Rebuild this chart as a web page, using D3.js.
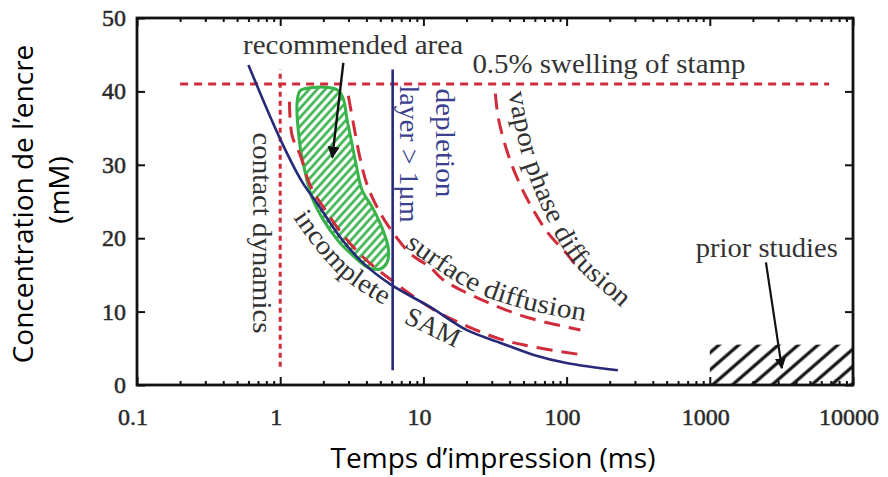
<!DOCTYPE html>
<html><head><meta charset="utf-8">
<script src="https://cdn.jsdelivr.net/npm/d3@7"></script>
<style>body{margin:0;background:#fff;} svg{display:block;}</style>
</head><body>
<svg id="chart" width="888" height="477"></svg>
<script>
// ---- data ----
const xTicks = [0.1, 1, 10, 100, 1000, 10000];
const xTickLabels = ["0.1", "1", "10", "100", "1000", "10000"];
const yTicks = [0, 10, 20, 30, 40, 50];
const yTickLabels = ["0", "10", "20", "30", "40", "50"];

// blue curve: incomplete SAM limit
const samT = [0.6, 1.0, 1.43, 1.82, 2.63, 3.8, 5.9, 11.2, 20, 35, 59, 100, 228];
const samC = [43.6, 33.5, 27.6, 24.7, 20.1, 16.6, 13.7, 10.6, 7.5, 5.7, 4.1, 3.0, 2.0];
// red dashed curve just above it
const bndT = [1.16, 1.21, 1.38, 1.62, 2.07, 2.76, 3.8, 5.87, 11.7, 20.3, 34.5, 58.7, 129];
const bndC = [38.6, 34.0, 31.3, 27.2, 23.8, 20.4, 17.4, 14.4, 10.3, 8.0, 6.25, 5.2, 4.1];
// surface diffusion
const surfT = [2.99, 3.24, 3.62, 4.06, 5.0, 6.17, 8.1, 11.2, 13.8, 26.3, 53.4, 125];
const surfC = [39.4, 35.7, 30.8, 27.2, 23.4, 20.7, 17.9, 16.0, 14.3, 11.5, 9.2, 7.5];
// vapor phase diffusion
const vapT = [31.8, 33.4, 38.6, 45.4, 56, 73.6, 102, 119];
const vapC = [39.7, 36.3, 31.7, 28.1, 24.5, 20.8, 17.7, 16.0];
// recommended area outline
const recT = [1.315, 1.38, 1.62, 2.24, 2.55, 2.76, 2.94, 3.14, 3.40, 3.74, 4.40, 5.17, 5.69, 5.58, 5.0, 4.12, 3.19, 2.55, 1.97, 1.67, 1.47, 1.36, 1.315];
const recC = [38.7, 40.1, 40.5, 40.5, 40.1, 39.0, 36.0, 33.3, 29.9, 26.5, 24.2, 21.3, 18.6, 16.7, 15.8, 16.0, 17.7, 19.6, 22.7, 25.5, 29.6, 33.3, 36.7];
// straight limits
const swellT = [0.2, 6800], swellC = 41;
const contactT = 1, contactC = [2.5, 43];
const deplT = 6.1, deplC = [2, 43];
// prior studies
const priorT = [1000, 10000], priorC = [0, 5.5];
// arrows [tail, tip]
const recArrowT = [2.76, 2.31], recArrowC = [43.9, 31.0];
const priorArrowT = [2466, 3186], priorArrowC = [16.7, 2.3];
// label baselines
const vapLabT = [39.3, 47.6, 65.8, 107, 210, 329], vapLabC = [39.8, 32.0, 24.5, 17.0, 11.6, 8.2];
const surfLabT = [7.36, 13.2, 23.1, 47.6, 125, 173], surfLabC = [18.9, 15.4, 12.6, 10.5, 8.8, 8.4];
const incLabT = [1.23, 1.78, 2.88, 6.07, 8.1], incLabC = [22.8, 18.5, 14.2, 10.3, 9.3];
const samLabT = [7.2, 21.3], samLabC = [8.5, 4.1];

// ---- drawing ----
const svg = d3.select("#chart");
const x = d3.scaleLog().domain([0.1, 10000]).range([137, 853]);
const y = d3.scaleLinear().domain([0, 50]).range([385, 18]);
const RED = "#d12c3c", BLUE = "#262a78", GREEN = "#37b34a", TXT = "#333";
const SERIF = "'Liberation Serif','Times New Roman',serif";
const SANS = "'Open Sans','Noto Sans',sans-serif";

const defs = svg.append("defs");
const gp = defs.append("pattern").attr("id", "greenHatch").attr("patternUnits", "userSpaceOnUse")
  .attr("width", 6).attr("height", 10).attr("patternTransform", "rotate(42)");
gp.append("rect").attr("width", 6).attr("height", 10).attr("fill", "#fff");
gp.append("line").attr("x1", 1.5).attr("x2", 1.5).attr("y1", 0).attr("y2", 10).attr("stroke", GREEN).attr("stroke-width", 2.6);
const bp = defs.append("pattern").attr("id", "blackHatch").attr("patternUnits", "userSpaceOnUse")
  .attr("width", 13).attr("height", 10).attr("patternTransform", "translate(3,0) rotate(49)");
bp.append("line").attr("x1", 2).attr("x2", 2).attr("y1", 0).attr("y2", 10).attr("stroke", "#111").attr("stroke-width", 3.2);
defs.append("marker").attr("id", "arrow").attr("viewBox", "0 0 10 10").attr("refX", 9).attr("refY", 5)
  .attr("markerWidth", 5).attr("markerHeight", 6).attr("markerUnits", "strokeWidth").attr("orient", "auto")
  .append("path").attr("d", "M0,0 L10,5 L0,10 Z").attr("fill", "#111");
defs.append("clipPath").attr("id", "plotClip").append("rect")
  .attr("x", x(0.1)).attr("y", y(50)).attr("width", x(10000) - x(0.1)).attr("height", y(0) - y(50));

const zip = (a, b) => a.map((v, i) => [v, b[i]]);
const line = d3.line().x(d => x(d[0])).y(d => y(d[1]));

// axes ticks (inward)
const minorX = x.ticks().filter(v => !xTicks.some(t => Math.abs(t - v) / t < 1e-6));
function axisG(gen, tr) {
  const g = svg.append("g").attr("transform", tr).call(gen);
  g.selectAll("text").remove();
  g.select(".domain").remove();
  g.selectAll("line").attr("stroke", "#111").attr("stroke-width", 2);
  return g;
}
axisG(d3.axisBottom(x).tickValues(xTicks).tickSize(-8), `translate(0,${y(0)})`);
axisG(d3.axisBottom(x).tickValues(minorX).tickSize(-4), `translate(0,${y(0)})`);
axisG(d3.axisTop(x).tickValues(xTicks).tickSize(-8), `translate(0,${y(50)})`);
axisG(d3.axisTop(x).tickValues(minorX).tickSize(-4), `translate(0,${y(50)})`);
axisG(d3.axisLeft(y).tickValues(yTicks).tickSize(-8), `translate(${x(0.1)},0)`);
axisG(d3.axisRight(y).tickValues(yTicks).tickSize(-8), `translate(${x(10000)},0)`);

// tick labels
svg.append("g").selectAll("text").data(xTicks).join("text")
  .attr("x", d => x(d) - 4).attr("y", 425).attr("text-anchor", "middle")
  .attr("font-family", SERIF).attr("font-size", 24).attr("fill", "#2a2a2a")
  .attr("stroke", "#2a2a2a").attr("stroke-width", 0.5)
  .text((d, i) => xTickLabels[i]);
svg.append("g").selectAll("text").data(yTicks).join("text")
  .attr("x", 126).attr("y", d => y(d) + 8).attr("text-anchor", "end")
  .attr("font-family", SERIF).attr("font-size", 24).attr("fill", "#2a2a2a")
  .attr("stroke", "#2a2a2a").attr("stroke-width", 0.5)
  .text((d, i) => yTickLabels[i]);

const plot = svg.append("g").attr("clip-path", "url(#plotClip)");

// prior studies hatch
plot.append("rect").attr("x", x(priorT[0])).attr("y", y(priorC[1]))
  .attr("width", x(priorT[1]) - x(priorT[0])).attr("height", y(priorC[0]) - y(priorC[1]))
  .attr("fill", "url(#blackHatch)");

// recommended area
plot.append("path").datum(zip(recT, recC).slice(0, -1))
  .attr("d", d3.line().x(d => x(d[0])).y(d => y(d[1])).curve(d3.curveCatmullRomClosed))
  .attr("fill", "url(#greenHatch)").attr("stroke", GREEN).attr("stroke-width", 3);

// straight limits
plot.append("path").datum([[swellT[0], swellC], [swellT[1], swellC]]).attr("d", line)
  .attr("stroke", RED).attr("stroke-width", 3).attr("stroke-dasharray", "8,6").attr("fill", "none");
plot.append("path").datum([[contactT, contactC[0]], [contactT, contactC[1]]]).attr("d", line)
  .attr("stroke", RED).attr("stroke-width", 3).attr("stroke-dasharray", "5,4").attr("fill", "none");

// red dashed curves
const smooth = d3.line().x(d => x(d[0])).y(d => y(d[1])).curve(d3.curveCatmullRom);
[[bndT, bndC], [surfT, surfC], [vapT, vapC]].forEach(([t, c]) => {
  plot.append("path").datum(zip(t, c)).attr("d", smooth)
    .attr("stroke", RED).attr("stroke-width", 3).attr("stroke-dasharray", "16,9").attr("fill", "none");
});

// blue lines
plot.append("path").datum([[deplT, deplC[0]], [deplT, deplC[1]]]).attr("d", line)
  .attr("stroke", BLUE).attr("stroke-width", 2.6).attr("fill", "none");
plot.append("path").datum(zip(samT, samC)).attr("d", smooth)
  .attr("stroke", BLUE).attr("stroke-width", 2.6).attr("fill", "none");

// arrows
plot.append("path").datum(zip(recArrowT, recArrowC)).attr("d", line)
  .attr("stroke", "#111").attr("stroke-width", 2.4).attr("marker-end", "url(#arrow)");
plot.append("path").datum(zip(priorArrowT, priorArrowC)).attr("d", line)
  .attr("stroke", "#111").attr("stroke-width", 2.2).attr("marker-end", "url(#arrow)");

// frame
svg.append("rect").attr("x", x(0.1)).attr("y", y(50)).attr("width", x(10000) - x(0.1)).attr("height", y(0) - y(50))
  .attr("fill", "none").attr("stroke", "#111").attr("stroke-width", 2.8);

// annotation text helpers
function label(txt, t, c, len, opts = {}) {
  const el = svg.append("text")
    .attr("font-family", SERIF).attr("font-size", opts.size || 27).attr("fill", opts.color || TXT)
    .attr("textLength", len).attr("lengthAdjust", "spacingAndGlyphs").text(txt);
  if (opts.rot) el.attr("transform", `translate(${x(t)},${y(c)}) rotate(${opts.rot})`);
  else el.attr("x", x(t)).attr("y", y(c));
  return el;
}
function pathLabel(id, txt, ts, cs, len, color) {
  defs.append("path").attr("id", id).attr("d", smooth(zip(ts, cs)));
  svg.append("text").attr("font-family", SERIF).attr("font-size", 27).attr("fill", color || TXT)
    .append("textPath").attr("href", "#" + id)
    .attr("textLength", len).attr("lengthAdjust", "spacingAndGlyphs").text(txt);
}
label("recommended area", 0.55, 45.1, 220);
label("0.5% swelling of stamp", 22.0, 42.5, 273);
label("prior studies", 798, 17.4, 142);
label("contact dynamics", 0.647, 34.4, 201, { rot: 90 });
label("depletion", 12.3, 40.4, 109, { rot: 90, color: "#3b3f8f" });
label("layer > 1μm", 6.9, 40.8, 137, { rot: 90, color: "#3b3f8f" });
pathLabel("vapPath", "vapor phase diffusion", vapLabT, vapLabC, 250);
pathLabel("surfPath", "surface diffusion", surfLabT, surfLabC, 198);
pathLabel("incPath", "incomplete", incLabT, incLabC, 128);
pathLabel("samPath", "SAM", samLabT, samLabC, 58);

// axis titles
svg.append("text").attr("x", 493).attr("y", 468).attr("text-anchor", "middle")
  .attr("font-family", SANS).attr("font-size", 28).attr("fill", "#000")
  .text("Temps d’impression (ms)");
svg.append("text").attr("transform", "translate(33,204) rotate(-90)").attr("text-anchor", "middle")
  .attr("font-family", SANS).attr("font-size", 28).attr("fill", "#000")
  .text("Concentration de l’encre");
svg.append("text").attr("transform", "translate(69,190) rotate(-90)").attr("text-anchor", "middle")
  .attr("font-family", SANS).attr("font-size", 28).attr("fill", "#000")
  .text("(mM)");
</script>
</body></html>
